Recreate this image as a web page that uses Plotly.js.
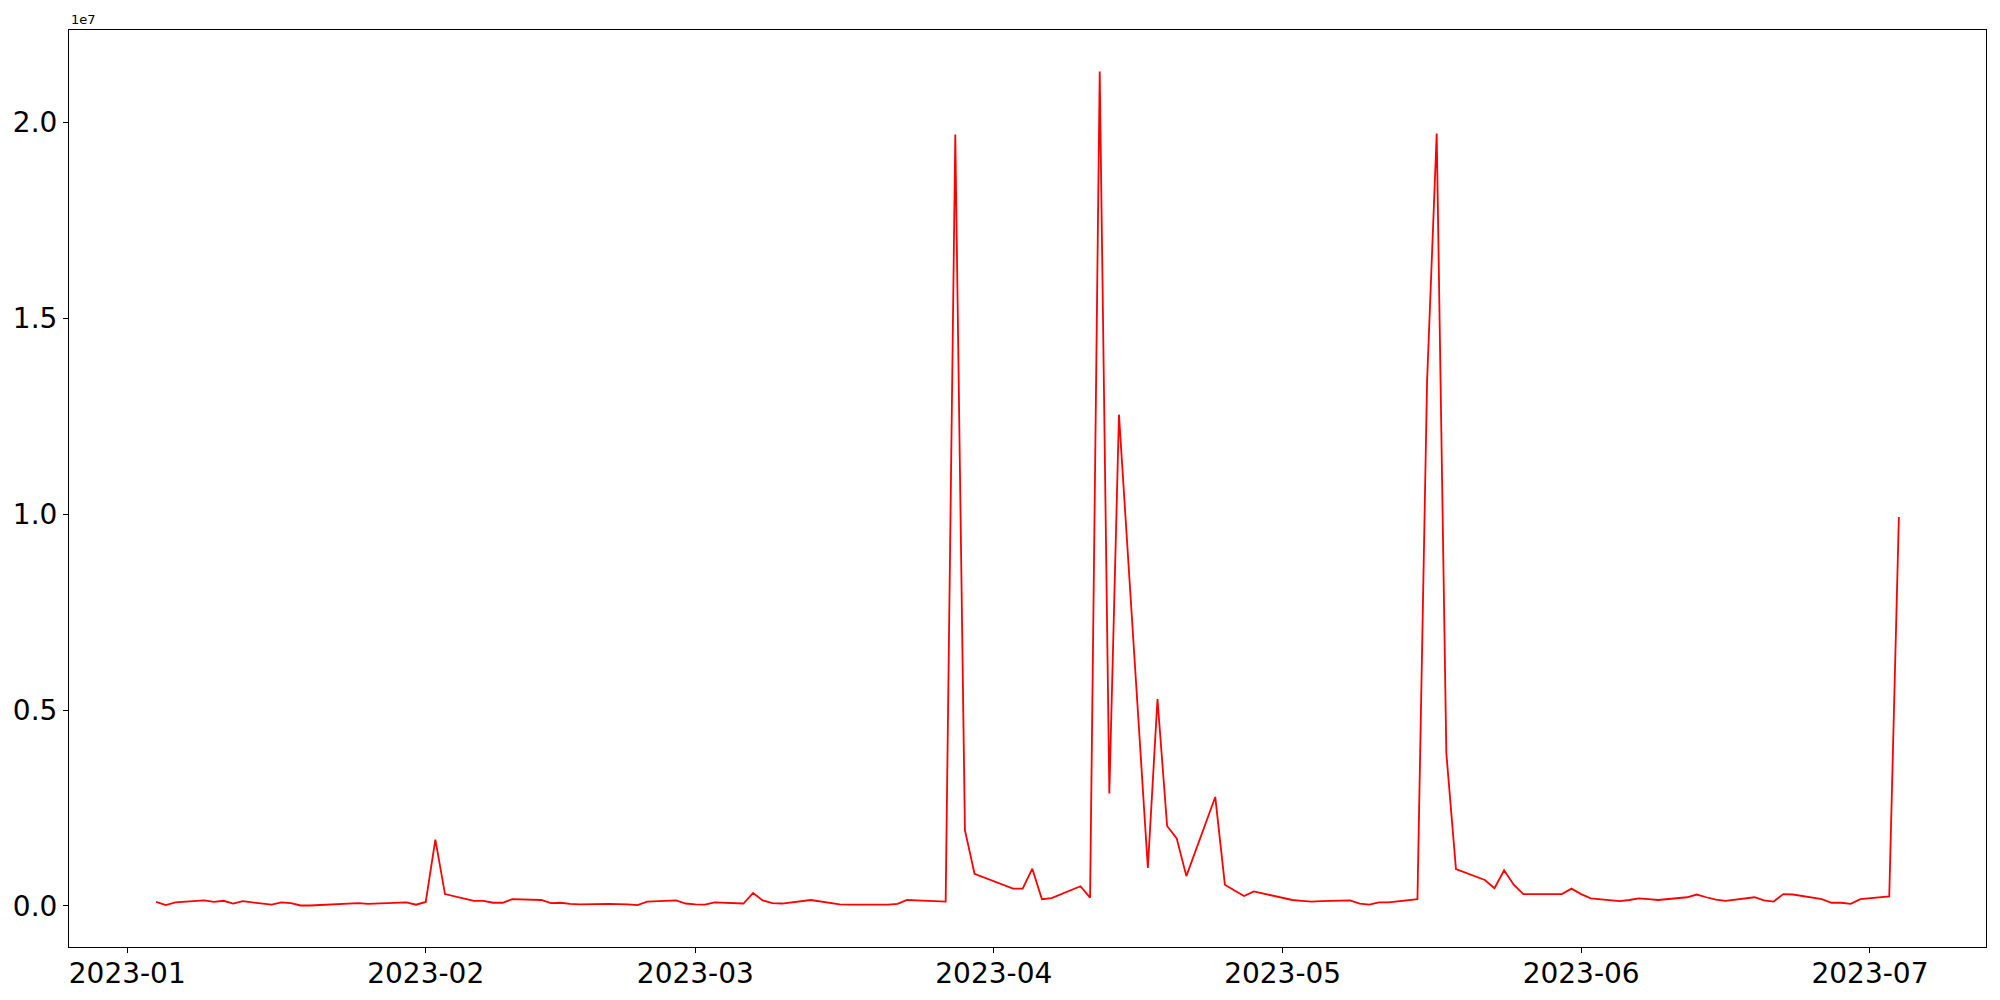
<!DOCTYPE html>
<html>
<head>
<meta charset="utf-8">
<script src="https://cdn.plot.ly/plotly-3.0.1.min.js"></script>
<style>
  html, body { margin: 0; padding: 0; background: #ffffff; }
  #chart { width: 2000px; height: 1000px; }
</style>
</head>
<body>
<div id="chart"></div>
<script>
// ---- data ----
const dates = [
  "2023-01-04","2023-01-05","2023-01-06","2023-01-09","2023-01-10","2023-01-11","2023-01-12","2023-01-13",
  "2023-01-16","2023-01-17","2023-01-18","2023-01-19","2023-01-20","2023-01-23","2023-01-24","2023-01-25",
  "2023-01-26","2023-01-27","2023-01-30","2023-01-31","2023-02-01","2023-02-02","2023-02-03","2023-02-06",
  "2023-02-07","2023-02-08","2023-02-09","2023-02-10","2023-02-13","2023-02-14","2023-02-15","2023-02-16",
  "2023-02-17","2023-02-20","2023-02-21","2023-02-22","2023-02-23","2023-02-24","2023-02-27","2023-02-28",
  "2023-03-01","2023-03-02","2023-03-03","2023-03-06","2023-03-07","2023-03-08","2023-03-09","2023-03-10",
  "2023-03-13","2023-03-14","2023-03-15","2023-03-16","2023-03-17","2023-03-20","2023-03-21","2023-03-22",
  "2023-03-23","2023-03-24","2023-03-27","2023-03-28","2023-03-29","2023-03-30","2023-03-31","2023-04-03",
  "2023-04-04","2023-04-05","2023-04-06","2023-04-07","2023-04-10","2023-04-11","2023-04-12","2023-04-13",
  "2023-04-14","2023-04-17","2023-04-18","2023-04-19","2023-04-20","2023-04-21","2023-04-24","2023-04-25",
  "2023-04-26","2023-04-27","2023-04-28","2023-05-02","2023-05-03","2023-05-04","2023-05-05","2023-05-08",
  "2023-05-09","2023-05-10","2023-05-11","2023-05-12","2023-05-15","2023-05-16","2023-05-17","2023-05-18",
  "2023-05-19","2023-05-22","2023-05-23","2023-05-24","2023-05-25","2023-05-26","2023-05-29","2023-05-30",
  "2023-05-31","2023-06-01","2023-06-02","2023-06-05","2023-06-06","2023-06-07","2023-06-08","2023-06-09",
  "2023-06-12","2023-06-13","2023-06-14","2023-06-15","2023-06-16","2023-06-19","2023-06-20","2023-06-21",
  "2023-06-22","2023-06-23","2023-06-26","2023-06-27","2023-06-28","2023-06-29","2023-06-30","2023-07-03",
  "2023-07-04"
];
const values = [
  0.10e6, 0.02e6, 0.09e6, 0.14e6, 0.10e6, 0.13e6, 0.06e6, 0.12e6,
  0.03e6, 0.09e6, 0.07e6, 0.01e6, 0.01e6, 0.04e6, 0.06e6, 0.07e6,
  0.05e6, 0.06e6, 0.09e6, 0.03e6, 0.10e6, 1.69e6, 0.30e6, 0.13e6,
  0.13e6, 0.08e6, 0.08e6, 0.17e6, 0.15e6, 0.07e6, 0.08e6, 0.05e6,
  0.04e6, 0.05e6, 0.05e6, 0.04e6, 0.02e6, 0.11e6, 0.14e6, 0.06e6,
  0.04e6, 0.03e6, 0.09e6, 0.06e6, 0.33e6, 0.14e6, 0.07e6, 0.06e6,
  0.15e6, 0.11e6, 0.07e6, 0.04e6, 0.03e6, 0.03e6, 0.03e6, 0.05e6,
  0.15e6, 0.14e6, 0.11e6, 19.69e6, 1.93e6, 0.82e6, 0.73e6, 0.44e6,
  0.44e6, 0.95e6, 0.17e6, 0.20e6, 0.50e6, 0.21e6, 21.30e6, 2.87e6,
  12.54e6, 0.97e6, 5.28e6, 2.04e6, 1.72e6, 0.76e6, 2.78e6, 0.54e6,
  0.39e6, 0.25e6, 0.37e6, 0.15e6, 0.13e6, 0.11e6, 0.12e6, 0.14e6,
  0.06e6, 0.03e6, 0.09e6, 0.09e6, 0.17e6, 13.4e6, 19.72e6, 3.90e6,
  0.94e6, 0.66e6, 0.45e6, 0.91e6, 0.54e6, 0.30e6, 0.30e6, 0.30e6,
  0.44e6, 0.30e6, 0.19e6, 0.12e6, 0.15e6, 0.19e6, 0.17e6, 0.15e6,
  0.22e6, 0.29e6, 0.22e6, 0.16e6, 0.13e6, 0.22e6, 0.14e6, 0.11e6,
  0.30e6, 0.29e6, 0.17e6, 0.08e6, 0.08e6, 0.05e6, 0.17e6, 0.24e6,
  9.93e6
];
const yTickVals = [0, 5e6, 1e7, 1.5e7, 2e7];
const yTickText = ["0.0", "0.5", "1.0", "1.5", "2.0"];
const offsetLabel = "1e7";

// ---- chart ----
const font = "DejaVu Sans, sans-serif";
const trace = {
  x: dates,
  y: values,
  type: "scatter",
  mode: "lines",
  line: { color: "#ff0000", width: 1.8 },
  hoverinfo: "x+y"
};

const layout = {
  width: 2000,
  height: 1000,
  paper_bgcolor: "#ffffff",
  plot_bgcolor: "#ffffff",
  margin: { l: 69, r: 14, t: 30, b: 53, pad: 0 },
  showlegend: false,
  font: { family: font, color: "#000000" },
  xaxis: {
    type: "date",
    range: ["2022-12-25 22:48", "2023-07-13 01:12"],
    tick0: "2023-01-01",
    dtick: "M1",
    tickformat: "%Y-%m",
    ticks: "outside",
    ticklen: 5,
    tickwidth: 1,
    tickcolor: "#000000",
    ticklabelstandoff: -4,
    tickfont: { family: font, size: 28, color: "#000000" },
    showgrid: false,
    zeroline: false,
    showline: true,
    linecolor: "#000000",
    linewidth: 1,
    mirror: true
  },
  yaxis: {
    range: [-1.05e6, 22.36e6],
    tickmode: "array",
    tickvals: yTickVals,
    ticktext: yTickText,
    ticks: "outside",
    ticklen: 5,
    tickwidth: 1,
    tickcolor: "#000000",
    tickfont: { family: font, size: 28, color: "#000000" },
    showgrid: false,
    zeroline: false,
    showline: true,
    linecolor: "#000000",
    linewidth: 1,
    mirror: true
  },
  annotations: [{
    text: offsetLabel,
    xref: "paper", yref: "paper",
    x: 0, y: 1,
    xanchor: "left", yanchor: "bottom",
    yshift: 1,
    showarrow: false,
    font: { family: font, size: 13, color: "#000000" }
  }]
};

Plotly.newPlot("chart", [trace], layout, { displayModeBar: false, staticPlot: true });
</script>
</body>
</html>
